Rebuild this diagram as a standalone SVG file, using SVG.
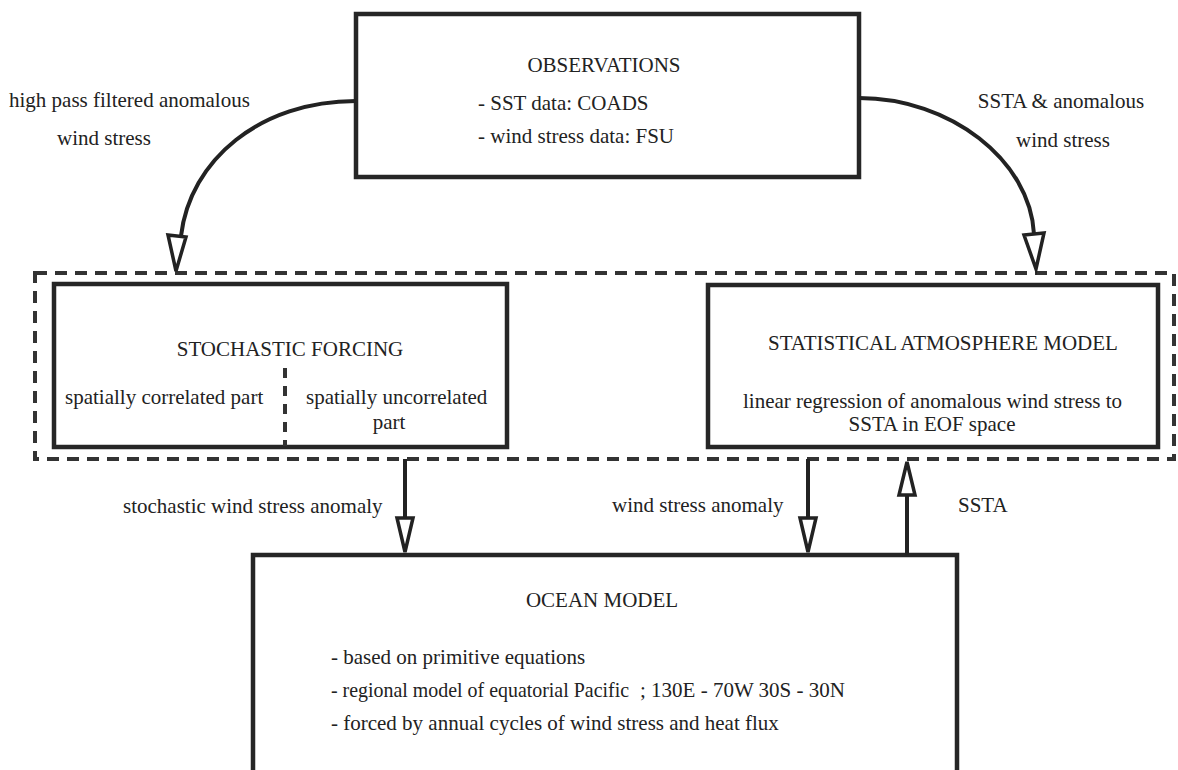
<svg xmlns="http://www.w3.org/2000/svg" width="1178" height="770" viewBox="0 0 1178 770">
<style>
  text { font-family: "Liberation Serif", "Times New Roman", serif; font-size: 21px; fill: #222; }
  .box { fill: #fff; stroke: #262626; stroke-width: 4.5; }
  .group { fill: none; stroke: #333; stroke-width: 4; stroke-dasharray: 12 8; }
  .divider { fill: none; stroke: #333; stroke-width: 4; stroke-dasharray: 10 8; }
  .conn { fill: none; stroke: #222; stroke-width: 4; }
  .head { fill: #fff; stroke: #222; stroke-width: 3.5; stroke-linejoin: miter; }
  .mid { text-anchor: middle; }
</style>
<rect width="1178" height="770" fill="#fff"/>

<g id="group-atmosphere">
  <rect class="group" x="35" y="273" width="1139" height="186"/>
</g>

<g id="observations">
  <rect class="box" x="356" y="14" width="503" height="163"/>
  <text class="mid" x="604" y="72">OBSERVATIONS</text>
  <text x="478" y="110">- SST data: COADS</text>
  <text x="478" y="143">- wind stress data: FSU</text>
</g>

<g id="stochastic-forcing">
  <rect class="box" x="54" y="284" width="453" height="163"/>
  <text class="mid" x="290" y="356">STOCHASTIC FORCING</text>
  <line class="divider" x1="285" y1="368" x2="285" y2="446"/>
  <text x="65" y="404">spatially correlated part</text>
  <text x="306" y="404">spatially uncorrelated</text>
  <text class="mid" x="389" y="429">part</text>
</g>

<g id="statistical-atmosphere-model">
  <rect class="box" x="708" y="285" width="450" height="162"/>
  <text x="768" y="350">STATISTICAL ATMOSPHERE MODEL</text>
  <text x="743" y="408">linear regression of anomalous wind stress to</text>
  <text class="mid" x="932" y="431">SSTA in EOF space</text>
</g>

<g id="ocean-model">
  <path class="box" d="M253,775 V555 H957 V775"/>
  <text class="mid" x="602" y="607">OCEAN MODEL</text>
  <text x="331" y="664">- based on primitive equations</text>
  <text x="331" y="697" textLength="298" lengthAdjust="spacingAndGlyphs">- regional model of equatorial Pacific</text>
  <text x="640" y="697">; 130E - 70W 30S - 30N</text>
  <text x="331" y="730">- forced by annual cycles of wind stress and heat flux</text>
</g>

<g id="connectors">
  <path class="conn" d="M356,101 C260,101 190,160 181,236"/>
  <polygon class="head" points="168,235 186,237 176,271"/>
  <text x="9" y="107">high pass filtered anomalous</text>
  <text x="57" y="145">wind stress</text>

  <path class="conn" d="M859,98 C950,98 1030,160 1034,234"/>
  <polygon class="head" points="1024,235 1044,233 1036,269"/>
  <text class="mid" x="1061" y="108">SSTA &amp; anomalous</text>
  <text class="mid" x="1063" y="147">wind stress</text>

  <line class="conn" x1="405" y1="459" x2="405" y2="518"/>
  <polygon class="head" points="397,518 413,518 405,552"/>
  <text x="123" y="513">stochastic wind stress anomaly</text>

  <line class="conn" x1="808" y1="459" x2="808" y2="518"/>
  <polygon class="head" points="800,518 816,518 808,552"/>
  <text x="612" y="512">wind stress anomaly</text>

  <line class="conn" x1="907" y1="555" x2="907" y2="495"/>
  <polygon class="head" points="899,495 915,495 907,462"/>
  <text x="958" y="512">SSTA</text>
</g>
</svg>
